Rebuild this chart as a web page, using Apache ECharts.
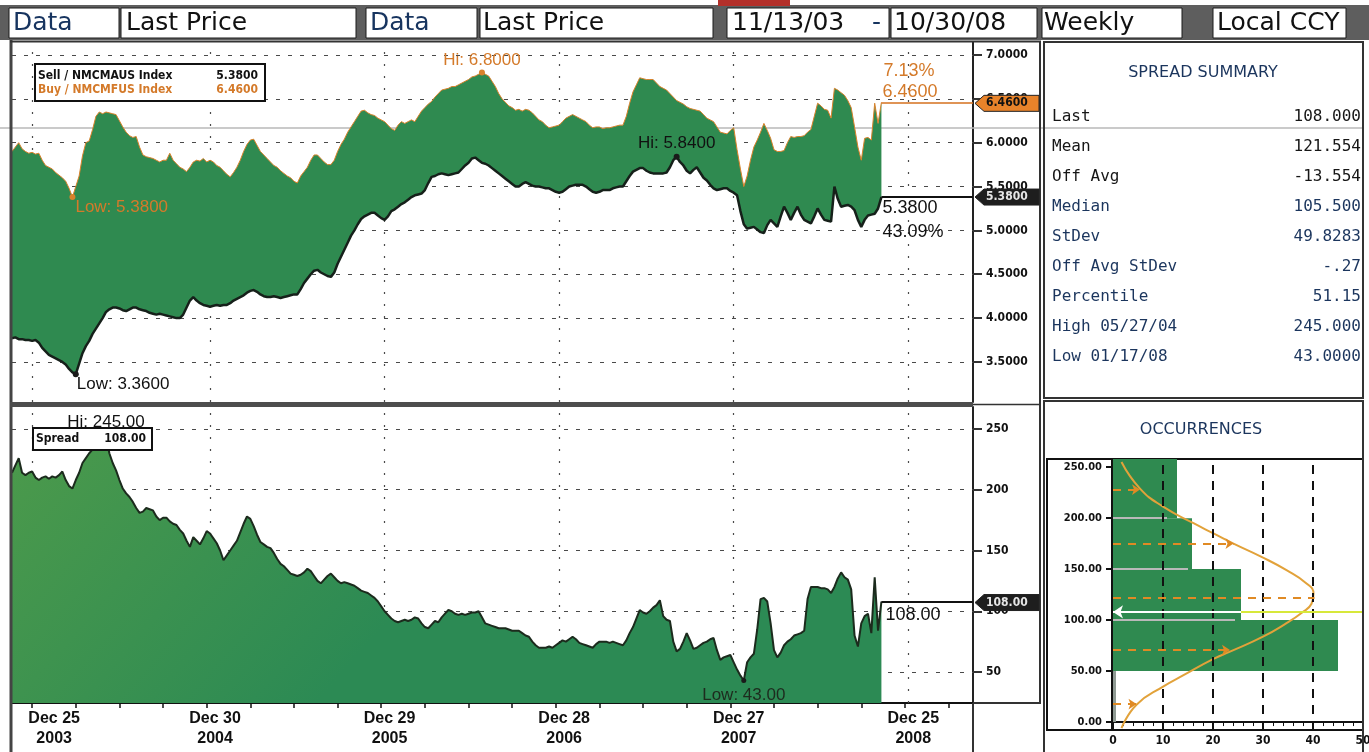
<!DOCTYPE html>
<html><head><meta charset="utf-8">
<script src="https://cdn.jsdelivr.net/npm/echarts@6/dist/echarts.min.js"></script>
<style>html,body{margin:0;padding:0;background:#fff;overflow:hidden}#c{width:1369px;height:752px}</style>
</head><body><div id="c"></div>
<script>
// ---------------- DATA ----------------
const startDate = '2003-11-13';      // first weekly observation
const axisMinDate = '2003-11-13';
const axisMaxDate = '2009-05-09';

const buy = [
5.90,5.95,6.00,5.93,5.90,5.88,5.89,5.87,5.88,5.80,
5.74,5.72,5.70,5.66,5.63,5.60,5.56,5.48,5.38,5.50,
5.62,5.85,6.00,6.02,6.15,6.30,6.35,6.33,6.35,6.34,
6.33,6.32,6.25,6.18,6.12,6.08,6.06,6.07,5.95,5.86,
5.84,5.83,5.82,5.80,5.78,5.80,5.80,5.88,5.80,5.76,
5.72,5.70,5.67,5.72,5.78,5.80,5.79,5.82,5.78,5.80,
5.78,5.74,5.72,5.68,5.64,5.61,5.66,5.72,5.80,5.90,
5.98,6.03,6.04,5.97,5.90,5.86,5.82,5.78,5.74,5.72,
5.68,5.65,5.62,5.60,5.56,5.54,5.62,5.67,5.72,5.80,
5.86,5.86,5.82,5.78,5.75,5.75,5.80,5.90,5.98,6.04,
6.12,6.18,6.24,6.30,6.36,6.37,6.34,6.32,6.31,6.28,
6.26,6.24,6.20,6.16,6.14,6.20,6.24,6.22,6.24,6.26,
6.24,6.30,6.36,6.40,6.44,6.47,6.52,6.56,6.60,6.61,
6.62,6.64,6.64,6.66,6.68,6.70,6.72,6.75,6.76,6.78,
6.80,6.78,6.76,6.70,6.64,6.56,6.50,6.46,6.42,6.40,
6.37,6.38,6.36,6.38,6.37,6.34,6.30,6.26,6.24,6.20,
6.17,6.18,6.19,6.20,6.24,6.28,6.30,6.32,6.30,6.28,
6.26,6.24,6.20,6.17,6.18,6.18,6.16,6.17,6.17,6.18,
6.19,6.20,6.20,6.30,6.45,6.58,6.66,6.74,6.73,6.72,
6.72,6.72,6.68,6.64,6.62,6.60,6.56,6.52,6.48,6.46,
6.44,6.41,6.39,6.38,6.37,6.36,6.32,6.28,6.26,6.24,
6.18,6.12,6.11,6.10,6.14,6.17,5.92,5.70,5.50,5.62,
5.80,5.95,6.03,6.12,6.22,6.14,6.05,5.92,5.90,5.90,
5.91,6.00,6.07,6.06,6.07,6.07,6.08,6.12,6.15,6.30,
6.45,6.42,6.38,6.37,6.28,6.62,6.60,6.57,6.54,6.48,
6.40,6.18,5.95,5.80,6.05,6.06,6.03,6.45,6.22,6.46];

const sell = [
3.77,3.78,3.76,3.76,3.75,3.75,3.74,3.75,3.72,3.66,
3.62,3.58,3.56,3.54,3.52,3.50,3.47,3.42,3.38,3.36,
3.48,3.60,3.68,3.74,3.82,3.88,3.94,4.00,4.07,4.10,
4.12,4.12,4.11,4.09,4.08,4.10,4.12,4.12,4.10,4.09,
4.08,4.06,4.05,4.04,4.05,4.04,4.03,4.02,4.01,4.00,
4.00,4.04,4.12,4.20,4.24,4.20,4.17,4.15,4.14,4.13,
4.14,4.15,4.14,4.15,4.15,4.17,4.20,4.22,4.24,4.26,
4.29,4.31,4.32,4.30,4.27,4.25,4.24,4.24,4.25,4.24,
4.23,4.24,4.25,4.26,4.27,4.27,4.33,4.40,4.45,4.50,
4.54,4.55,4.52,4.50,4.48,4.47,4.52,4.62,4.70,4.78,
4.86,4.94,5.00,5.07,5.13,5.16,5.18,5.20,5.20,5.17,
5.14,5.12,5.16,5.22,5.24,5.27,5.30,5.32,5.35,5.38,
5.40,5.41,5.42,5.46,5.54,5.61,5.62,5.64,5.65,5.64,
5.63,5.64,5.65,5.66,5.70,5.74,5.77,5.82,5.83,5.80,
5.77,5.76,5.74,5.71,5.68,5.65,5.62,5.59,5.56,5.53,
5.50,5.50,5.53,5.55,5.53,5.51,5.50,5.50,5.49,5.48,
5.48,5.46,5.44,5.43,5.44,5.47,5.50,5.51,5.52,5.52,
5.52,5.50,5.47,5.44,5.43,5.44,5.46,5.46,5.46,5.48,
5.49,5.50,5.50,5.56,5.62,5.67,5.69,5.71,5.71,5.68,
5.66,5.65,5.65,5.65,5.65,5.66,5.72,5.80,5.84,5.78,
5.74,5.68,5.65,5.69,5.72,5.66,5.60,5.57,5.52,5.48,
5.46,5.47,5.48,5.48,5.45,5.43,5.40,5.22,5.07,5.02,
5.03,5.04,5.01,4.98,4.97,5.06,5.12,5.08,5.04,5.16,
5.27,5.20,5.12,5.20,5.27,5.18,5.12,5.10,5.08,5.16,
5.25,5.18,5.12,5.11,5.10,5.50,5.36,5.27,5.28,5.29,
5.27,5.23,5.12,5.04,5.12,5.17,5.18,5.19,5.25,5.38];

const spread = [
214,220,226,214,212,214,215,210,208,210,
211,209,211,210,212,215,208,203,201,208,
214,222,226,230,233,236,240,243,245,230,
222,216,208,201,197,194,190,185,181,182,
185,184,183,178,175,177,177,174,172,171,
167,164,158,153,161,158,155,160,166,164,
160,156,150,142,146,150,154,158,165,172,
178,176,170,163,157,155,153,152,148,143,
139,137,134,131,130,129,130,132,135,133,
129,125,123,126,129,131,128,125,123,124,
123,122,121,119,117,116,115,113,111,108,
104,100,97,94,92,91,92,93,92,93,
95,94,90,87,86,89,92,91,95,98,
101,100,98,97,98,97,98,99,99,100,
95,90,89,88,87,86,86,86,85,84,
84,84,82,80,79,75,72,70,70,70,
71,70,72,74,76,75,77,79,77,74,
73,72,71,70,73,75,75,75,74,75,
74,73,72,76,82,87,94,101,99,98,
100,103,105,109,96,93,92,75,67,69,
75,82,76,69,70,72,74,75,77,78,
68,60,62,63,64,58,52,47,43,58,
62,65,85,110,111,108,90,68,62,66,
72,75,77,80,81,82,84,110,120,120,
120,119,119,118,115,120,127,132,128,126,
118,80,71,90,96,98,82,128,84,108];

const yearTickDates  = ['2003-12-25','2004-12-30','2005-12-29','2006-12-28','2007-12-27','2008-12-25'];
const yearTickLabels = ['Dec 25\n2003','Dec 30\n2004','Dec 29\n2005','Dec 28\n2006','Dec 27\n2007','Dec 25\n2008'];
const topTicks    = [3.5,4.0,4.5,5.0,5.5,6.0,6.5,7.0];
const bottomTicks = [50,100,150,200,250];

const headerTexts = ['Data','Last Price','Data','Last Price','11/13/03','-','10/30/08','Weekly','Local CCY'];
const buyPctText  = '7.13%';
const sellPctText = '43.09%';
const legendTop   = ['Sell / NMCMAUS Index','Buy / NMCMFUS Index'];
const legendBottom = 'Spread';

const summaryLabels = ['Last','Mean','Off Avg','Median','StDev','Off Avg StDev','Percentile','High 05/27/04','Low 01/17/08'];
const summaryValues = ['108.000','121.554','-13.554','105.500','49.8283','-.27','51.15','245.000','43.0000'];

// occurrences histogram (percent of weeks per spread bucket)
const histBins = [[0,50],[50,100],[100,150],[150,200],[200,258]];
const histPct  = [0.6,45.0,25.6,15.8,12.8];
const histYTicks = [0,50,100,150,200,250];
// fitted curve
const curvePct = [1.7,5.4,10.1,16.1,20.1,24.1,29.7,34.7,38.7,40.1,39.7,37.7,34.7,30.1,23.4,20.1,14.1,10.1,4.7,1.7];
const curveVal = [255,229,211,195,185,175,162,149,136,126,116,107,97,84,69,62,46,35,17,-6];
// dashed level lines (level value, percent where they meet the curve)
const levelVal = [228,175,121.5,70.6,17.6];
const levelPct = [5.4,24.1,40.3,23.4,4.7];
const histGrayVal = [200,150,100];
const histGrayPct = [10.8,15.0,24.4];

// ---------------- HELPERS ----------------
const DAY = 86400000;
const ts = s => { const p = s.split('-').map(Number); return Date.UTC(p[0], p[1]-1, p[2]); };
const t0 = ts(startDate);
const times = buy.map((_, i) => t0 + i * 7 * DAY);
const xMin = ts(axisMinDate), xMax = ts(axisMaxDate);
const yearT = yearTickDates.map(ts);
const quarterT = [];
for (let t = yearT[0]; t <= xMax; t += 91 * DAY) quarterT.push(t);

const buyPairs = times.map((t, i) => [t, buy[i]]);
const sellPairs = times.map((t, i) => [t, sell[i]]);
const spreadPairs = times.map((t, i) => [t, spread[i]]);
const lastT = times[times.length - 1];
const lastBuy = buy[buy.length - 1], lastSell = sell[sell.length - 1], lastSpread = spread[spread.length - 1];

const FONT_UI = "'DejaVu Sans', 'Liberation Sans', sans-serif";
const FONT_NARROW = "'Liberation Sans Narrow', 'DejaVu Sans Condensed', 'Liberation Sans', sans-serif";
const FONT_LBL = "'Liberation Sans', 'DejaVu Sans', sans-serif";
const FONT_MONO = "'DejaVu Sans Mono', 'Liberation Mono', monospace";
const ORANGE = '#d47a2a', GREEN = '#2f8a50', NAVY = '#1b355d';

const gridH = {color:'#4a4a4a', width:1.2, type:[4,8]};
const gridV = {color:'#4a4a4a', width:1.2, type:[2,10]};

const axisLblStyle = {color:'#111', fontWeight:'bold', fontSize:12, fontFamily:FONT_NARROW};

const option = {
  animation: false,
  backgroundColor: '#fff',
  grid: [
    {left:12, top:42, width:961, height:360, outerBoundsMode:'none', containLabel:false},
    {left:12, top:407, width:961, height:296, outerBoundsMode:'none', containLabel:false},
    {left:1113, top:459, width:250, height:271, outerBoundsMode:'none', containLabel:false,
     show:true, borderColor:'#111', borderWidth:2, backgroundColor:'transparent'}
  ],
  xAxis: [
    {type:'value', gridIndex:0, min:xMin, max:xMax, show:false, scale:true},
    {type:'value', gridIndex:1, min:xMin, max:xMax, scale:true,
     axisLine:{show:true, lineStyle:{color:'#111', width:2}},
     axisTick:{show:true, customValues:quarterT, length:5, lineStyle:{color:'#111', width:1.5}},
     splitLine:{show:false},
     axisLabel:{customValues:yearT, margin:6, hideOverlap:false,
       formatter:(v) => {
         let k = yearT.findIndex(t => Math.abs(t - v) < DAY);
         if (k < 0) return '';
         const st = k === 0 ? 'f' : 'n';
         return yearTickLabels[k].split('\n').map(s => '{' + st + '|' + s + '}').join('\n');
       },
       rich:{
         f:{fontSize:16, fontWeight:'bold', fontFamily:FONT_LBL, color:'#111', lineHeight:20, padding:[0,0,0,44]},
         n:{fontSize:16, fontWeight:'bold', fontFamily:FONT_LBL, color:'#111', lineHeight:20, padding:[0,0,0,10]}
       }}},
    {type:'value', gridIndex:2, min:0, max:50, interval:10,
     axisLine:{show:true, lineStyle:{color:'#111', width:2}},
     axisTick:{show:true, length:5, lineStyle:{color:'#111', width:1.5}},
     minorTick:{show:true, splitNumber:5, length:4, lineStyle:{color:'#111', width:1}},
     splitLine:{show:false},
     axisLabel:Object.assign({margin:5}, axisLblStyle, {fontSize:12})}
  ],
  yAxis: [
    {type:'value', gridIndex:0, position:'right', min:3.0433, max:7.148,
     axisLine:{show:true, lineStyle:{color:'#222', width:2}},
     axisTick:{show:true, customValues:topTicks, length:9, lineStyle:{color:'#333', width:2}},
     splitLine:{show:false},
     axisLabel:Object.assign({customValues:topTicks, margin:13, formatter:v => v.toFixed(4)}, axisLblStyle)},
    {type:'value', gridIndex:1, position:'right', min:24.5, max:268.1,
     axisLine:{show:true, lineStyle:{color:'#222', width:2}},
     axisTick:{show:true, customValues:bottomTicks, length:9, lineStyle:{color:'#333', width:2}},
     splitLine:{show:false},
     axisLabel:Object.assign({customValues:bottomTicks, margin:13, formatter:v => String(v)}, axisLblStyle)},
    {type:'value', gridIndex:2, position:'left', min:-7.8, max:258,
     axisLine:{show:true, lineStyle:{color:'#111', width:2}},
     axisTick:{show:true, customValues:histYTicks, length:7, lineStyle:{color:'#111', width:2}},
     splitLine:{show:false},
     axisLabel:Object.assign({customValues:histYTicks, margin:11, formatter:v => v.toFixed(2)}, axisLblStyle, {fontSize:11})}
  ],
  series: [
    // gridlines of top panel (invisible carrier line)
    {type:'line', name:'gridT', xAxisIndex:0, yAxisIndex:0, data:sellPairs,
     symbol:'none', lineStyle:{width:0, opacity:0}, silent:true, z:2,
     markLine:{silent:true, symbol:'none', z:1, label:{show:false}, animation:false,
       data:[...topTicks.map(v => ({yAxis:v, lineStyle:gridH})), ...yearT.map(t => ({xAxis:t, lineStyle:gridV}))]}},
    // buy line (mostly under the fill)
    {type:'line', name:'Buy', xAxisIndex:0, yAxisIndex:0, data:buyPairs, symbol:'none', z:2,
     lineStyle:{color:'#d9822b', width:1},
     markPoint:{symbol:'circle', symbolSize:6, itemStyle:{color:'#d9822b'}, silent:true,
       data:[
        {type:'max', label:{show:true, position:'top', distance:1, formatter:p => 'Hi: ' + p.value.toFixed(4), color:ORANGE, fontSize:17, fontFamily:FONT_LBL}},
        {type:'min', label:{show:true, position:[6,5], align:'left', verticalAlign:'top', formatter:p => 'Low: ' + p.value.toFixed(4), color:ORANGE, fontSize:17, fontFamily:FONT_LBL}}
       ]},
     markLine:{silent:true, symbol:'none', label:{show:false},
       data:[[{coord:[lastT, lastBuy], lineStyle:{color:'#d4701e', width:1.5, type:'solid'}}, {coord:[xMax, lastBuy]}]]}},
    // green band between sell and buy, polygon built from both series
    {type:'custom', name:'band', xAxisIndex:0, yAxisIndex:0, silent:true, z:2,
     encode:{x:0, y:1}, data:[[lastT, lastBuy]],
     renderItem:(params, api) => {
       if (params.dataIndex !== 0) return null;
       const pts = buyPairs.map(p => api.coord(p));
       for (let i = sellPairs.length - 1; i >= 0; i--) pts.push(api.coord(sellPairs[i]));
       return {type:'polygon', shape:{points:pts}, style:{fill:GREEN}};
     }},
    // sell line
    {type:'line', name:'Sell', xAxisIndex:0, yAxisIndex:0, data:sellPairs, symbol:'none', z:2,
     lineStyle:{color:'#16201a', width:2.5},
     markPoint:{symbol:'circle', symbolSize:6, itemStyle:{color:'#1a1a1a'}, silent:true,
       data:[
        {type:'max', label:{show:true, position:'top', distance:2, formatter:p => 'Hi: ' + p.value.toFixed(4), color:'#111', fontSize:17, fontFamily:FONT_LBL}},
        {type:'min', label:{show:true, position:[4,5], align:'left', verticalAlign:'top', formatter:p => 'Low: ' + p.value.toFixed(4), color:'#111', fontSize:17, fontFamily:FONT_LBL}}
       ]},
     markLine:{silent:true, symbol:'none', label:{show:false},
       data:[[{coord:[lastT, lastSell], lineStyle:{color:'#111', width:2, type:'solid'}}, {coord:[xMax, lastSell]}]]}},
    // bottom gridlines holder
    {type:'line', name:'gridB', xAxisIndex:1, yAxisIndex:1, data:spreadPairs, symbol:'none',
     lineStyle:{width:0, opacity:0}, silent:true, z:2,
     markLine:{silent:true, symbol:'none', z:1, label:{show:false},
       data:[...bottomTicks.map(v => ({yAxis:v, lineStyle:gridH})), ...yearT.map(t => ({xAxis:t, lineStyle:gridV}))]}},
    // spread
    {type:'line', name:'Spread', xAxisIndex:1, yAxisIndex:1, data:spreadPairs, symbol:'none', z:2,
     lineStyle:{color:'#1c2b1d', width:2},
     areaStyle:{opacity:1, origin:'start', color:new echarts.graphic.LinearGradient(0,0,0.35,1,[{offset:0,color:'#4c9a4b'},{offset:1,color:'#2c8a54'}])},
     markPoint:{symbol:'circle', symbolSize:5, itemStyle:{color:'#1a1a1a'}, silent:true,
       data:[
        {type:'max', label:{show:true, position:'top', distance:2, formatter:p => 'Hi: ' + p.value.toFixed(2), color:'#111', fontSize:17, fontFamily:FONT_LBL}},
        {type:'min', label:{show:true, position:'bottom', distance:4, formatter:p => 'Low: ' + p.value.toFixed(2), color:'#1d2b1e', fontSize:17, fontFamily:FONT_LBL}}
       ]},
     markLine:{silent:true, symbol:'none', label:{show:false},
       data:[[{coord:[lastT, lastSpread], lineStyle:{color:'#111', width:2, type:'solid'}}, {coord:[xMax, lastSpread]}]]}},
    // histogram bars
    {type:'custom', name:'hist', xAxisIndex:2, yAxisIndex:2, silent:true, z:2,
     encode:{x:2, y:[0,1]},
     data:histBins.map((b, i) => [b[0], b[1], histPct[i]]),
     renderItem:(params, api) => {
       const a = api.coord([0, api.value(1)]);
       const b = api.coord([api.value(2), api.value(0)]);
       return {type:'rect', shape:{x:a[0], y:a[1], width:b[0]-a[0], height:b[1]-a[1]},
               style:{fill: params.dataIndex === 0 ? '#8f9a93' : '#2f8a50'}};
     }},
    // fitted curve + level lines
    {type:'line', name:'curve', xAxisIndex:2, yAxisIndex:2, smooth:true, symbol:'none', silent:true, z:3,
     data:curvePct.map((p, i) => [p, curveVal[i]]),
     lineStyle:{color:'#e2a23a', width:2},
     markLine:{silent:true, symbol:'none', label:{show:false},
       data:[
         ...histGrayVal.map((v, i) => [{coord:[0, v], lineStyle:{color:'#b9b9b9', width:2, type:'solid'}}, {coord:[histGrayPct[i], v]}]),
         ...[10,20,30,40].map(v => ({xAxis:v, lineStyle:{color:'#111', width:2, type:[9,7]}})),
         ...levelVal.map((v, i) => [{coord:[0, v], symbol:'none', lineStyle:{color:'#e08a24', width:2, type:[8,7]}},
                                     {coord:[levelPct[i], v], symbol: i === 2 ? 'none' : 'arrow', symbolSize:8}]),
         [{coord:[0, lastSpread], symbol:'arrow', symbolSize:10, lineStyle:{color:'#ffffff', width:2, type:'solid'}}, {coord:[histPct[2], lastSpread], symbol:'none'}],
         [{coord:[histPct[2], lastSpread], lineStyle:{color:'#d7e83a', width:2, type:'solid'}}, {coord:[50, lastSpread]}]
       ]}}
  ]
};

const chart = echarts.init(document.getElementById('c'), null, {renderer:'canvas'});
chart.setOption(option);

// ---------------- STATIC DECORATION ----------------
function T(text, x, y, font, fill, align, z) {
  return {type:'text', z: z || 20, silent:true,
    style:{text, x, y, font, fill, align: align || 'left', textAlign: align || 'left', verticalAlign:'middle', textVerticalAlign:'middle'}};
}
function R(x, y, w, h, fill, stroke, lw, z) {
  return {type:'rect', z: z || 15, silent:true, shape:{x, y, width:w, height:h},
    style:{fill: fill || 'none', stroke: stroke || 'none', lineWidth: lw || 0}};
}
function L(x1, y1, x2, y2, stroke, lw, z) {
  return {type:'line', z: z || 15, silent:true, shape:{x1, y1, x2, y2}, style:{stroke, lineWidth:lw}};
}
const px = (g, t, v) => chart.convertToPixel({gridIndex:g}, [t, v]);

const els = [];
els.push(R(0, 5, 1369, 35, '#5e5e5e', null, 0, 15));
els.push(R(718, 0, 72, 6, '#b3302a', null, 0, 15));
const boxes = [[9,110],[121,235],[366,111],[480,233],[727,162],[891,146],[1042,140],[1213,133]];
boxes.forEach(b => els.push(R(b[0], 8, b[1], 30, '#fff', '#1a1a1a', 1, 16)));
const HF = '25px ' + FONT_UI;
const headerPos = [[13,'#17345f'],[126,'#111'],[370,'#17345f'],[483,'#111'],[732,'#111'],[872,'#17345f'],[894,'#111'],[1044,'#111'],[1217,'#111']];
headerTexts.forEach((s, i) => els.push(T(s, headerPos[i][0], 23, HF, headerPos[i][1])));

// frames
els.push(L(0, 128, 1362, 128, '#b8b8b8', 1.5, 1));
els.push(L(11, 40, 11, 752, '#444', 3));
els.push(L(10, 41.5, 1041, 41.5, '#333', 2));
els.push(R(10, 402, 963, 5, '#4d4d4d', null, 0, 15));
els.push(L(1040, 41, 1040, 704, '#333', 2));
els.push(L(973, 404.5, 1040, 404.5, '#333', 1.5));
els.push(L(973, 703, 1040, 703, '#333', 2));
els.push(L(973, 703, 973, 752, '#333', 2));
els.push(R(1044, 42, 319, 356, null, '#333', 2, 15));
els.push(R(1044, 401, 319, 352, null, '#333', 2, 15));
els.push(R(1047, 459, 65, 271, null, '#111', 2, 15));

// legends
els.push(R(35, 64, 230, 37, '#fff', '#111', 2, 18));
els.push(T(legendTop[0], 38, 76, 'bold 12px ' + FONT_NARROW, '#111'));
els.push(T(lastSell.toFixed(4), 258, 76, 'bold 12px ' + FONT_NARROW, '#111', 'right'));
els.push(T(legendTop[1], 38, 90, 'bold 12px ' + FONT_NARROW, ORANGE));
els.push(T(lastBuy.toFixed(4), 258, 90, 'bold 12px ' + FONT_NARROW, ORANGE, 'right'));
els.push(R(33, 428, 119, 22, '#fff', '#111', 2, 18));
els.push(T(legendBottom, 36, 439, 'bold 12px ' + FONT_NARROW, '#111'));
els.push(T(lastSpread.toFixed(2), 146, 439, 'bold 12px ' + FONT_NARROW, '#111', 'right'));

// summary
els.push(T('SPREAD SUMMARY', 1203, 73, '16px ' + FONT_UI, NAVY, 'center'));
summaryLabels.forEach((s, i) => {
  const col = i < 3 ? '#161616' : NAVY;
  els.push(T(s, 1052, 117 + 30 * i, '16px ' + FONT_MONO, col));
  els.push(T(summaryValues[i], 1361, 117 + 30 * i, '16px ' + FONT_MONO, col, 'right'));
});
els.push(T('OCCURRENCES', 1201, 430, '16px ' + FONT_UI, NAVY, 'center'));

// last-value annotations and axis flags
const pB = px(0, lastT, lastBuy), pS = px(0, lastT, lastSell), pSp = px(1, lastT, lastSpread);
const F18 = '18px ' + FONT_LBL;
els.push(T(buyPctText, pB[0] + 2, pB[1] - 31, F18, ORANGE));
els.push(T(lastBuy.toFixed(4), pB[0] + 1, pB[1] - 10, F18, ORANGE));
els.push(T(lastSell.toFixed(4), pS[0] + 1, pS[1] + 11, F18, '#111'));
els.push(T(sellPctText, pS[0] + 1, pS[1] + 35, F18, '#111'));
els.push(T(lastSpread.toFixed(2), pSp[0] + 4, pSp[1] + 13, F18, '#111'));
function flag(y, text, bg, fg) {
  const x = 975;
  els.push({type:'polygon', z:22, silent:true, shape:{points:[[x,y],[x+9,y-8],[x+64,y-8],[x+64,y+8],[x+9,y+8]]},
            style:{fill:bg, stroke:'#222', lineWidth:1}});
  els.push(T(text, x + 11, y, 'bold 12px ' + FONT_NARROW, fg, 'left', 23));
}
flag(pB[1] + 1, lastBuy.toFixed(4), '#e8832a', '#111');
flag(pS[1], lastSell.toFixed(4), '#1e1e1e', '#e6e6e6');
flag(pSp[1] + 1, lastSpread.toFixed(2), '#1e1e1e', '#e6e6e6');

chart.setOption({graphic:{elements:els}});
</script>
</body></html>
